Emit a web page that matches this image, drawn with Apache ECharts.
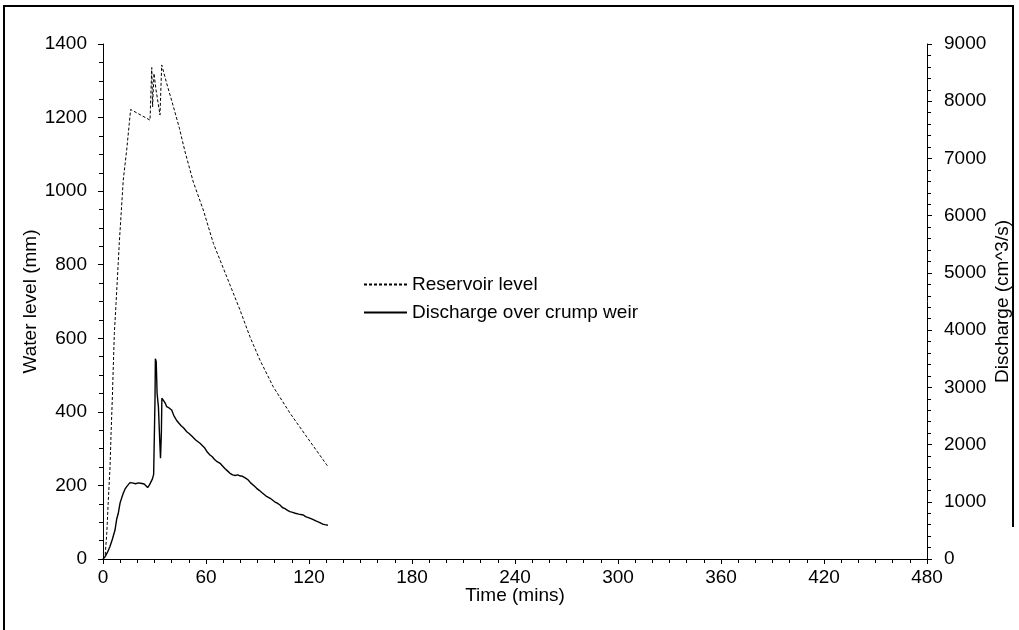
<!DOCTYPE html>
<html>
<head>
<meta charset="utf-8">
<script src="https://cdn.jsdelivr.net/npm/echarts@6/dist/echarts.min.js"></script>
<style>
html,body{margin:0;padding:0;background:#fff;}
#c{width:1019px;height:630px;}
</style>
</head>
<body>
<div id="c"></div>
<script>
// Reservoir level (mm) vs time (mins)
const levelTime = [0, 1.2, 2.2, 3.1, 4.1, 4.7, 5.4, 6.0, 6.6, 7.6, 9.5, 11.8, 13.8, 15.3, 16.1, 27.4, 28.4, 28.9, 29.7, 30.9, 33.2, 34.2, 37.1, 41, 44.5, 47.8, 52.6, 58.4, 64.3, 72.1, 79.8, 85.6, 91.4, 99.2, 109, 118.7, 130.3, 131];
const levelValues = [0, 6, 70, 160, 251, 342, 432, 523, 613, 695, 860, 1030, 1112, 1184, 1222, 1193, 1336, 1229, 1320, 1275, 1207, 1343, 1293, 1230, 1171, 1107, 1025, 949, 858, 767, 677, 604, 541, 468, 396, 332, 256, 252];

// Discharge over crump weir (cm^3/s) vs time (mins)
const dischargeTime = [0, 1.2, 2.5, 4, 5.5, 7, 8.0, 8.9, 9.9, 10.8, 11.8, 12.8, 13.8, 15.7, 17, 19, 20.5, 22, 24, 25, 26, 27, 28, 28.8, 29.5, 30.0, 30.3, 30.5, 31.0, 31.5, 32.3, 33.0, 33.5, 34.0, 34.3, 35.0, 35.5, 36.3, 37.1, 38.5, 40.0, 41.2, 42.9, 44.0, 45.5, 47.0, 48.8, 50.3, 52, 54, 56.5, 57.5, 59, 60.5, 62.3, 63.5, 65, 66.5, 68.2, 69.5, 71, 72.5, 74, 75.5, 77, 78.5, 79.8, 81, 82, 83.3, 84.6, 86, 87, 88.3, 89.5, 91, 93, 95, 97.4, 98.5, 100, 101.5, 103.1, 104.5, 106, 107.5, 108.9, 110.5, 112, 114, 116.7, 118, 120, 121.5, 122.5, 124, 126, 127, 128, 129.3, 130.3, 131];
const dischargeValues = [0, 40, 110, 215, 350, 507, 700, 799, 973, 1060, 1148, 1220, 1264, 1334, 1330, 1315, 1330, 1323, 1310, 1300, 1250, 1290, 1311, 1400, 1480, 1500, 2800, 3500, 3450, 2900, 2650, 2100, 1760, 2200, 2810, 2780, 2760, 2720, 2662, 2640, 2604, 2510, 2420, 2390, 2330, 2290, 2225, 2190, 2140, 2080, 2022, 2000, 1950, 1880, 1818, 1790, 1740, 1700, 1672, 1630, 1580, 1540, 1498, 1470, 1460, 1470, 1451, 1450, 1440, 1410, 1381, 1330, 1300, 1270, 1235, 1200, 1150, 1100, 1061, 1040, 1000, 975, 944, 900, 880, 850, 827, 815, 800, 785, 769, 740, 720, 700, 682, 665, 640, 630, 610, 600, 594, 590];

const xTicks = [0, 60, 120, 180, 240, 300, 360, 420, 480];
const leftTicks = [0, 200, 400, 600, 800, 1000, 1200, 1400];
const rightTicks = [0, 1000, 2000, 3000, 4000, 5000, 6000, 7000, 8000, 9000];

const FONT = '"Liberation Sans", Arial, sans-serif';
const FS = 19;
const chart = echarts.init(document.getElementById('c'), null, {renderer: 'canvas'});

const labelStyle = (m) => ({color: '#000', fontSize: FS, fontFamily: FONT, margin: m, formatter: v => String(v)});
const axisCommon = {
  axisLine: {show: true, lineStyle: {color: '#000', width: 1}},
  axisTick: {show: true, length: 5, lineStyle: {color: '#000'}},
  splitLine: {show: false},
  nameMoveOverlap: false,
  nameTextStyle: {color: '#000', fontSize: FS, fontFamily: FONT}
};

chart.setOption({
  animation: false,
  backgroundColor: '#fff',
  grid: {left: 103, right: 92, top: 44, bottom: 71, containLabel: false, outerBoundsMode: 'none'},
  legend: {
    orient: 'vertical',
    left: 358,
    top: 270,
    itemWidth: 43,
    itemHeight: 14,
    itemGap: 9,
    itemStyle: {opacity: 0},
    textStyle: {color: '#000', fontSize: FS, fontFamily: FONT},
    data: ['Reservoir level', 'Discharge over crump weir']
  },
  xAxis: Object.assign({}, axisCommon, {
    type: 'value', min: xTicks[0], max: xTicks[xTicks.length - 1], interval: 60,
    name: 'Time (mins)', nameLocation: 'middle', nameGap: 27,
    minorTick: {show: true, splitNumber: 6, length: 4, lineStyle: {color: '#000'}},
    axisLabel: labelStyle(9)
  }),
  yAxis: [
    Object.assign({}, axisCommon, {
      type: 'value', min: leftTicks[0], max: leftTicks[leftTicks.length - 1], interval: 200,
      name: 'Water level (mm)', nameLocation: 'middle', nameGap: 63, nameRotate: 90,
      minorTick: {show: true, splitNumber: 4, length: 4, lineStyle: {color: '#000'}},
      axisLabel: labelStyle(16)
    }),
    Object.assign({}, axisCommon, {
      type: 'value', position: 'right', min: rightTicks[0], max: rightTicks[rightTicks.length - 1], interval: 1000,
      name: 'Discharge (cm^3/s)', nameLocation: 'middle', nameGap: 66, nameRotate: 90,
      minorTick: {show: true, splitNumber: 5, length: 4, lineStyle: {color: '#000'}},
      axisLabel: labelStyle(17)
    })
  ],
  series: [
    {
      name: 'Reservoir level', type: 'line', yAxisIndex: 0, symbol: 'none', showSymbol: false,
      lineStyle: {color: '#000', width: 1, type: [3, 2]},
      itemStyle: {color: '#000'},
      data: levelTime.map((t, i) => [t, levelValues[i]])
    },
    {
      name: 'Discharge over crump weir', type: 'line', yAxisIndex: 1, symbol: 'none', showSymbol: false,
      lineStyle: {color: '#000', width: 1.4},
      itemStyle: {color: '#000'},
      data: dischargeTime.map((t, i) => [t, dischargeValues[i]])
    }
  ],
  graphic: [
    {type: 'polyline', shape: {points: [[4, 630], [4, 6], [1013, 6], [1013, 527]]}, style: {stroke: '#000', lineWidth: 2, fill: null}, silent: true}
  ]
});
</script>
</body>
</html>
